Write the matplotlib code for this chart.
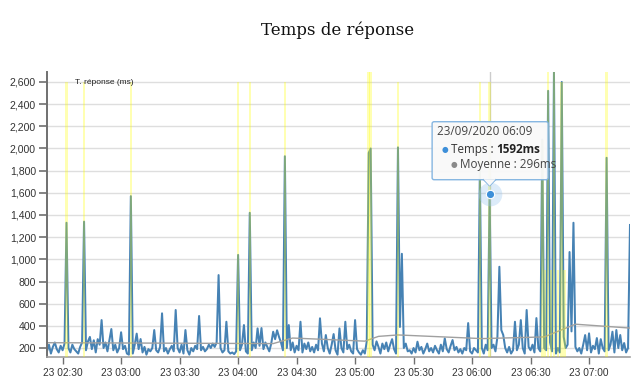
import matplotlib
matplotlib.use('Agg')
import matplotlib.pyplot as plt
import numpy as np
from matplotlib.patches import FancyBboxPatch, Polygon

# ---------------- data ----------------
start_minute = 142  # 02:22 on 23/09/2020, one sample per minute
temps = [
    170, 230, 150, 210, 250, 190, 160, 220, 180, 240, 1330, 200, 160, 230, 190, 170, 150, 210, 250, 1340,
    180, 260, 300, 190, 270, 160, 280, 230, 452, 200, 250, 170, 270, 371, 180, 230, 160, 200, 342, 190,
    220, 150, 140, 1570, 150, 230, 330, 190, 281, 160, 210, 140, 190, 170, 200, 362, 180, 160, 210, 513,
    170, 200, 150, 190, 220, 170, 543, 200, 160, 230, 150, 362, 180, 140, 200, 170, 220, 190, 489, 180,
    210, 170, 190, 230, 200, 240, 210, 250, 858, 200, 160, 180, 437, 170, 150, 160, 145, 170, 1040, 180,
    230, 407, 170, 150, 1420, 180, 250, 200, 377, 220, 380, 190, 250, 210, 170, 240, 347, 280, 360, 300,
    250, 180, 1930, 200, 407, 180, 250, 160, 220, 180, 437, 160, 240, 190, 250, 170, 210, 160, 230, 180,
    468, 240, 170, 317, 200, 150, 230, 326, 180, 140, 377, 200, 160, 437, 190, 230, 170, 150, 452, 190,
    160, 140, 180, 150, 260, 1960, 2000, 230, 180, 260, 210, 150, 240, 190, 250, 170, 230, 280, 190, 150,
    2010, 390, 1050, 200, 240, 170, 180, 150, 200, 160, 257, 180, 210, 150, 190, 240, 170, 200, 160, 220,
    180, 150, 230, 170, 287, 190, 160, 220, 272, 180, 210, 160, 190, 150, 200, 180, 425, 170, 150, 200,
    180, 160, 1800, 200, 150, 230, 180, 1592, 200, 230, 170, 300, 933, 362, 317, 200, 160, 210, 150, 180,
    437, 180, 230, 452, 200, 150, 543, 210, 180, 230, 160, 470, 200, 170, 2080, 200, 180, 2520, 250, 170,
    2690, 150, 200, 160, 2600, 300, 200, 230, 1066, 350, 1330, 210, 170, 200, 150, 230, 317, 180, 332, 160,
    220, 190, 290, 150, 280, 200, 170, 1916, 180, 230, 347, 160, 362, 200, 317, 180, 245, 160, 200, 1310,
]
minutes = start_minute + np.arange(len(temps))

avg_minutes = [142, 258, 268, 292, 305, 312, 322, 365, 397, 413, 441]
avg_values = [248, 240, 290, 272, 262, 305, 318, 285, 300, 415, 380]

alert_minutes = [152, 161, 185, 240, 246, 264, 307, 308, 322, 364, 369,
                 396, 397.5, 399, 400.5, 402, 404, 406, 407.5, 429]
alert_tops = [2600, 2600, 2600, 2600, 2600, 2600, 2690, 2690, 2600, 2600, 2600,
              2080, 900, 2690, 900, 2690, 900, 2600, 900, 2690]

xtick_minutes = [150, 180, 210, 240, 270, 300, 330, 360, 390, 420]
xtick_labels = ['23 02:30', '23 03:00', '23 03:30', '23 04:00', '23 04:30',
                '23 05:00', '23 05:30', '23 06:00', '23 06:30', '23 07:00']
ytick_values = list(range(200, 2601, 200))

tooltip_title = '23/09/2020 06:09'
tooltip_minute = 369
tooltip_temps = 1592
tooltip_avg = 296

# ---------------- figure ----------------
fig = plt.figure(figsize=(6.4, 3.81), dpi=100)
ax = fig.add_axes([47/640, 1-357/381, (630-47)/640, (357-72)/381])
ymin, ymax = 119, 2690
ax.set_xlim(142, 441)
ax.set_ylim(ymin, ymax)

for v in ytick_values:
    ax.axhline(v, color='#dedede', lw=1.0, zorder=0)

ax.axvline(tooltip_minute, color='#cccccc', lw=1.0, zorder=1)

ax.plot(minutes, temps, color='#4682b4', lw=1.45, zorder=2, solid_joinstyle='round')
ax.plot(avg_minutes, avg_values, color='#a0a0a0', lw=1.0, zorder=2)

ax.bar(alert_minutes, [t - ymin for t in alert_tops], bottom=ymin, width=1.3,
       color='#ffff00', alpha=0.3, zorder=3, linewidth=0)

# hover marker
ax.plot([tooltip_minute], [tooltip_temps], 'o', ms=17, color='#9cc6ee', alpha=0.35, zorder=5, mec='none')
ax.plot([tooltip_minute], [tooltip_temps], 'o', ms=6, color='#3d8fd9', zorder=6, mec='white', mew=0.8)

for s in ['top', 'right']:
    ax.spines[s].set_visible(False)
ax.spines['left'].set_color('#707070')
ax.spines['left'].set_linewidth(1.4)
ax.spines['bottom'].set_color('#a0a0a0')
ax.spines['bottom'].set_linewidth(1.2)

ax.set_yticks(ytick_values)
ax.set_yticklabels([f'{v:,}' for v in ytick_values], fontsize=7.6, color='#333333',
                   family='Liberation Sans')
ax.tick_params(axis='y', length=6, width=1.2, color='#707070', pad=2)
ax.set_xticks(xtick_minutes)
ax.set_xticklabels(xtick_labels, fontsize=7.3, color='#333333', family='Liberation Sans')
ax.tick_params(axis='x', length=5, width=1.0, color='#707070', pad=3)

fig.text(75/640, 1-82/381, 'T. réponse (ms)', fontsize=6, color='#222222',
         family='Liberation Sans', va='center', ha='left')

fig.text(338/640, 1-30/381, 'Temps de réponse', fontsize=12, color='#111111',
         family='DejaVu Serif', ha='center', va='center')

# ---------------- tooltip ----------------
fig.canvas.draw()
px, py = ax.transData.transform((tooltip_minute, tooltip_temps))
left, right = px - 57.5, px + 58.5
top, bottom = py + 72, py + 14
box = FancyBboxPatch((left, bottom), right - left, top - bottom,
                     boxstyle='round,pad=0,rounding_size=2', transform=None,
                     facecolor='#f9f9f9', edgecolor='#7fb2e0', lw=1.0, alpha=0.95, zorder=10)
fig.patches.append(box)
tri = Polygon([(px - 6, bottom + 0.5), (px + 6, bottom + 0.5), (px, bottom - 6)], closed=True,
              transform=None, facecolor='#f9f9f9', edgecolor='none', zorder=11)
fig.patches.append(tri)
fig.lines.append(plt.Line2D([px - 6, px, px + 6], [bottom, bottom - 6, bottom],
                            transform=None, color='#7fb2e0', lw=1.0, zorder=11))

tfont = 'Open Sans'
fig.text(left + 5, top - 10, tooltip_title, transform=None, fontsize=8.4, color='#444444',
         family=tfont, va='center', ha='left', zorder=12)
fig.text(left + 9, top - 28, '●', transform=None, fontsize=5.5, color='#3d8fd9',
         family='DejaVu Sans', va='center', ha='left', zorder=12)
t1 = fig.text(left + 19, top - 28, 'Temps : ', transform=None, fontsize=8.4, color='#333333',
              family=tfont, va='center', ha='left', zorder=12)
fig.canvas.draw()
bb = t1.get_window_extent()
fig.text(bb.x1, top - 28, f'{tooltip_temps}ms', transform=None, fontsize=8.4, color='#222222',
         family=tfont, weight='bold', va='center', ha='left', zorder=12)
fig.text(left + 18, top - 43, '●', transform=None, fontsize=5.5, color='#8a8a8a',
         family='DejaVu Sans', va='center', ha='left', zorder=12)
fig.text(left + 28, top - 43, f'Moyenne : {tooltip_avg}ms', transform=None, fontsize=8.4,
         color='#444444', family=tfont, va='center', ha='left', zorder=12)

fig.savefig('out.png', dpi=100)
